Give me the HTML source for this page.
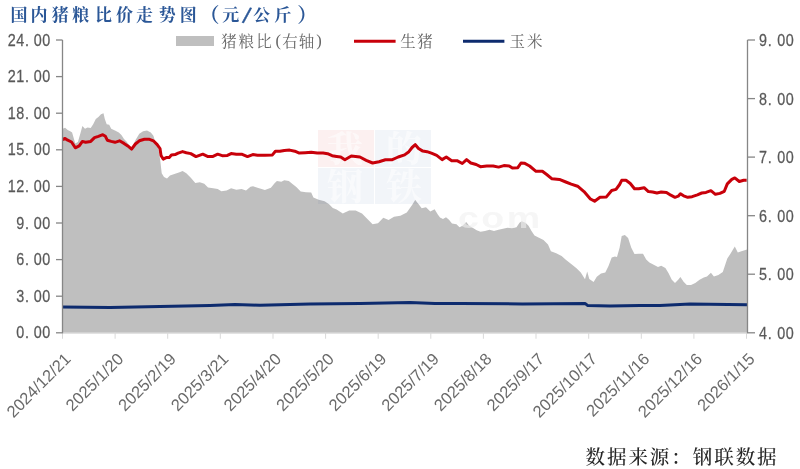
<!DOCTYPE html>
<html><head><meta charset="utf-8"><title>国内猪粮比价走势图</title>
<style>
html,body{margin:0;padding:0;background:#fff;}
body{width:800px;height:469px;position:relative;overflow:hidden;}
</style></head><body>
<svg width="800" height="469" viewBox="0 0 800 469" style="position:absolute;left:0;top:0;filter:blur(0.45px)"><text y="20.8" font-size="17" fill="#2b5797" font-family="'Liberation Serif', 'Noto Serif CJK SC', serif" font-weight="700"><tspan x="10.50" y="20.80">国</tspan><tspan x="30.60" y="20.80">内</tspan><tspan x="51.70" y="20.80">猪</tspan><tspan x="72.30" y="20.80">粮</tspan><tspan x="94.90" y="20.80">比</tspan><tspan x="116.00" y="20.80">价</tspan><tspan x="136.10" y="20.80">走</tspan><tspan x="158.70" y="20.80">势</tspan><tspan x="179.80" y="20.80">图</tspan><tspan x="199.40" y="22.40" font-size="20">（</tspan><tspan x="222.30" y="20.80">元</tspan><tspan x="242.0" y="22.6" rotate="13" font-size="22.5" font-family="Liberation Sans, sans-serif" font-weight="normal" stroke="#2b5797" stroke-width="0.4">/</tspan><tspan x="253.35" y="20.80">公</tspan><tspan x="274.25" y="20.80">斤</tspan><tspan x="297.35" y="22.40" font-size="20">）</tspan></text><polygon points="62.6,332.8 62.6,128.7 65.1,127.8 67.7,130.0 70.2,131.2 72.1,132.5 74.1,139.5 75.3,143.4 77.9,142.0 80.5,133.0 82.4,126.0 85.0,128.7 87.5,127.4 90.7,128.0 93.2,124.2 95.8,119.0 98.4,117.1 101.0,114.2 103.5,113.3 104.8,119.0 106.7,124.2 109.2,124.8 111.2,128.7 115.0,130.6 118.8,132.5 121.4,135.0 124.0,138.9 126.5,141.4 131.6,148.5 135.4,140.2 139.3,133.8 143.1,131.2 147.0,130.6 150.8,132.5 153.4,135.7 155.0,141.2 158.0,146.4 160.2,159.9 161.7,173.3 164.0,177.0 167.0,178.5 170.0,175.5 174.4,174.0 178.9,172.5 182.6,171.0 186.3,173.3 190.8,177.8 195.3,183.0 199.8,182.2 204.3,183.7 208.0,187.5 213.2,188.2 217.7,189.0 221.4,191.2 226.6,190.4 231.1,188.2 236.3,189.7 241.6,189.0 246.0,190.4 250.5,186.7 253.0,186.3 257.5,187.8 264.9,190.0 270.9,187.8 274.6,183.3 276.9,181.0 281.3,181.8 284.3,180.3 288.8,181.0 292.5,184.0 296.3,187.0 300.7,191.5 306.0,192.2 311.2,192.5 313.4,197.5 318.7,199.7 324.6,201.2 329.1,204.2 332.8,207.9 336.6,209.4 342.8,213.6 349.2,210.4 355.6,210.4 362.0,213.6 368.4,220.0 372.6,224.2 378.0,223.2 383.3,217.8 388.6,220.0 394.0,216.8 400.4,215.7 406.8,212.5 412.1,205.0 415.3,199.7 418.5,204.0 421.7,208.2 426.0,207.2 430.3,211.4 434.6,209.3 437.8,214.6 440.0,217.5 443.0,219.0 446.0,217.2 449.0,219.7 452.0,223.5 456.5,224.2 459.5,227.2 462.5,225.7 466.2,222.0 469.2,225.7 473.0,228.0 476.7,230.2 480.5,231.7 485.0,231.0 489.5,229.8 494.0,231.0 498.5,229.8 503.0,228.7 507.5,227.7 512.0,228.3 516.5,227.2 519.5,222.7 521.7,221.2 525.5,222.7 528.5,225.7 531.5,231.0 534.5,235.5 539.0,237.7 543.5,240.0 548.0,244.5 550.9,251.2 556.2,253.3 561.6,255.9 565.8,259.7 571.2,264.0 576.5,268.2 580.8,272.5 585.0,279.3 587.2,271.4 589.3,278.9 593.6,282.1 596.8,276.8 601.0,273.6 605.3,272.5 608.5,266.1 611.7,257.6 614.9,256.5 617.0,257.0 619.6,247.7 621.7,236.0 624.9,234.9 628.1,238.1 631.3,247.7 634.5,254.1 638.8,253.7 643.0,253.7 646.2,259.4 649.4,262.6 653.7,264.8 658.0,266.9 661.2,265.8 665.4,268.0 668.6,273.3 671.8,279.7 675.0,282.9 678.2,279.7 680.4,277.1 683.6,281.8 686.8,285.0 691.0,285.0 695.3,282.9 699.6,279.7 703.8,277.6 707.0,276.5 710.9,272.8 713.9,276.4 718.4,274.9 722.8,271.9 727.3,258.5 730.3,254.0 734.8,246.6 737.8,252.5 742.2,251.0 747.0,249.6 747.0,332.8" fill="#bfbfbf"/><g opacity="0.06"><rect x="318" y="130" width="56" height="37" fill="#c00000"/><rect x="375" y="130" width="56" height="37" fill="#2f5597"/><rect x="318" y="168" width="56" height="36" fill="#2f5597"/><rect x="375" y="168" width="56" height="36" fill="#2f5597"/></g><g fill="#ffffff" opacity="0.55"><text x="345" y="162" font-size="36" font-weight="bold" text-anchor="middle" font-family="Liberation Serif, Noto Serif CJK SC, serif">我</text><text x="404" y="162" font-size="36" font-weight="bold" text-anchor="middle" font-family="Liberation Serif, Noto Serif CJK SC, serif">的</text><text x="345" y="200" font-size="36" font-weight="bold" text-anchor="middle" font-family="Liberation Serif, Noto Serif CJK SC, serif">钢</text><text x="404" y="200" font-size="36" font-weight="bold" text-anchor="middle" font-family="Liberation Serif, Noto Serif CJK SC, serif">铁</text></g><text transform="translate(458,227.5) scale(1.25,1)" font-size="30" font-weight="bold" letter-spacing="2" fill="#f0f0f0" opacity="0.6" font-family="Liberation Sans, sans-serif">com</text><polyline points="62.5,307.1 110.0,307.4 160.0,306.6 210.0,305.4 235.0,304.6 260.0,305.2 310.0,304.1 360.0,303.6 410.0,302.6 435.0,303.4 460.0,303.4 522.5,303.9 585.0,303.4 587.5,305.4 610.0,306.1 640.0,305.4 660.0,305.4 690.0,304.0 747.0,304.8" fill="none" stroke="#0d2b6e" stroke-width="3" stroke-linejoin="round" stroke-linecap="butt"/><polyline points="62.6,139.5 65.1,138.5 67.7,140.2 71.5,142.0 75.3,147.8 79.2,145.9 82.4,141.4 85.6,142.3 90.7,141.4 94.5,137.6 98.4,136.3 102.8,134.7 105.4,136.3 107.3,140.2 111.2,141.4 115.0,142.3 119.5,140.8 124.0,143.4 127.8,145.9 131.6,149.1 135.4,144.0 139.3,140.8 144.4,139.3 149.5,139.3 153.4,140.8 157.2,144.6 160.0,148.5 161.0,155.4 163.2,159.1 166.2,157.6 169.2,157.6 171.4,155.0 175.1,154.6 178.1,153.1 182.6,151.6 186.3,152.7 190.8,153.6 196.0,156.6 202.8,154.2 208.0,156.6 212.5,156.6 217.7,154.2 222.2,155.7 227.4,155.4 231.1,153.6 236.3,154.2 241.6,154.2 247.5,156.6 252.8,154.6 257.5,155.2 264.9,155.2 272.4,154.9 275.4,151.2 279.9,151.2 284.3,150.4 289.6,150.1 294.8,151.2 299.3,153.1 305.2,152.7 311.2,152.2 317.2,153.1 323.1,153.1 327.6,153.7 332.1,155.7 336.6,156.4 340.7,157.0 344.9,159.8 351.3,156.0 359.9,157.0 366.2,160.3 372.6,163.0 379.0,161.7 385.4,159.8 391.8,159.8 398.2,157.0 404.6,154.9 408.9,151.7 412.1,147.5 415.3,144.7 418.5,148.5 422.8,151.1 427.0,151.7 431.4,153.2 436.7,155.4 442.1,159.6 446.3,157.0 451.7,160.7 457.0,160.7 462.3,163.5 466.6,159.6 470.8,163.0 476.2,164.5 480.4,166.7 486.8,166.0 493.2,166.0 498.6,167.1 503.9,165.6 509.2,166.0 512.4,168.1 517.8,167.7 521.0,163.0 524.3,163.2 529.6,166.0 536.0,171.3 542.4,171.3 546.7,174.5 552.0,178.8 559.4,179.4 565.8,182.0 571.2,184.1 577.6,186.2 584.0,191.6 590.4,199.0 594.6,201.2 600.0,197.3 606.4,196.9 611.7,190.5 616.0,189.4 619.6,184.5 621.7,180.3 626.0,180.3 630.3,183.5 634.5,188.8 638.8,188.8 644.1,187.7 648.4,191.6 652.6,192.0 656.9,193.0 661.2,192.0 666.5,192.4 670.8,195.2 675.0,197.3 678.2,196.2 680.4,193.7 683.6,195.8 687.8,197.3 692.1,196.7 697.4,194.8 701.7,193.0 706.0,192.4 710.9,190.7 715.4,194.3 719.9,193.4 724.3,191.3 727.3,183.9 731.8,179.4 734.8,177.9 739.3,181.5 743.7,180.3 746.7,180.3" fill="none" stroke="#c8000a" stroke-width="3" stroke-linejoin="round" stroke-linecap="butt"/><line x1="62.5" y1="333.25" x2="747.5" y2="333.25" stroke="#d9d9d9" stroke-width="1"/><line x1="62.5" y1="332.75" x2="62.5" y2="338.75" stroke="#d9d9d9" stroke-width="1"/><line x1="115.1" y1="332.75" x2="115.1" y2="338.75" stroke="#d9d9d9" stroke-width="1"/><line x1="167.7" y1="332.75" x2="167.7" y2="338.75" stroke="#d9d9d9" stroke-width="1"/><line x1="220.3" y1="332.75" x2="220.3" y2="338.75" stroke="#d9d9d9" stroke-width="1"/><line x1="273.0" y1="332.75" x2="273.0" y2="338.75" stroke="#d9d9d9" stroke-width="1"/><line x1="325.6" y1="332.75" x2="325.6" y2="338.75" stroke="#d9d9d9" stroke-width="1"/><line x1="378.2" y1="332.75" x2="378.2" y2="338.75" stroke="#d9d9d9" stroke-width="1"/><line x1="430.8" y1="332.75" x2="430.8" y2="338.75" stroke="#d9d9d9" stroke-width="1"/><line x1="483.4" y1="332.75" x2="483.4" y2="338.75" stroke="#d9d9d9" stroke-width="1"/><line x1="536.0" y1="332.75" x2="536.0" y2="338.75" stroke="#d9d9d9" stroke-width="1"/><line x1="588.7" y1="332.75" x2="588.7" y2="338.75" stroke="#d9d9d9" stroke-width="1"/><line x1="641.3" y1="332.75" x2="641.3" y2="338.75" stroke="#d9d9d9" stroke-width="1"/><line x1="693.9" y1="332.75" x2="693.9" y2="338.75" stroke="#d9d9d9" stroke-width="1"/><line x1="746.5" y1="332.75" x2="746.5" y2="338.75" stroke="#d9d9d9" stroke-width="1"/><line x1="62.5" y1="40" x2="62.5" y2="333.25" stroke="#868686" stroke-width="1.3"/><line x1="56" y1="332.8" x2="62.5" y2="332.8" stroke="#868686" stroke-width="1.3"/><line x1="56" y1="296.2" x2="62.5" y2="296.2" stroke="#868686" stroke-width="1.3"/><line x1="56" y1="259.6" x2="62.5" y2="259.6" stroke="#868686" stroke-width="1.3"/><line x1="56" y1="223.0" x2="62.5" y2="223.0" stroke="#868686" stroke-width="1.3"/><line x1="56" y1="186.4" x2="62.5" y2="186.4" stroke="#868686" stroke-width="1.3"/><line x1="56" y1="149.8" x2="62.5" y2="149.8" stroke="#868686" stroke-width="1.3"/><line x1="56" y1="113.2" x2="62.5" y2="113.2" stroke="#868686" stroke-width="1.3"/><line x1="56" y1="76.6" x2="62.5" y2="76.6" stroke="#868686" stroke-width="1.3"/><line x1="56" y1="40.0" x2="62.5" y2="40.0" stroke="#868686" stroke-width="1.3"/><line x1="747.5" y1="40" x2="747.5" y2="333.25" stroke="#868686" stroke-width="1.3"/><line x1="747.5" y1="332.8" x2="755" y2="332.8" stroke="#868686" stroke-width="1.3"/><line x1="747.5" y1="274.2" x2="755" y2="274.2" stroke="#868686" stroke-width="1.3"/><line x1="747.5" y1="215.7" x2="755" y2="215.7" stroke="#868686" stroke-width="1.3"/><line x1="747.5" y1="157.1" x2="755" y2="157.1" stroke="#868686" stroke-width="1.3"/><line x1="747.5" y1="98.6" x2="755" y2="98.6" stroke="#868686" stroke-width="1.3"/><line x1="747.5" y1="40.0" x2="755" y2="40.0" stroke="#868686" stroke-width="1.3"/><text transform="matrix(0.87 0 0 1 16.30 0)" x="0.00 10.00 20.00 29.77" y="338.35" font-size="16.5" fill="#595959" font-family="'Liberation Sans', sans-serif" stroke="#595959" stroke-width="0.25">0.00</text><text transform="matrix(0.87 0 0 1 16.30 0)" x="0.00 10.00 20.00 29.77" y="301.76" font-size="16.5" fill="#595959" font-family="'Liberation Sans', sans-serif" stroke="#595959" stroke-width="0.25">3.00</text><text transform="matrix(0.87 0 0 1 16.30 0)" x="0.00 10.00 20.00 29.77" y="265.16" font-size="16.5" fill="#595959" font-family="'Liberation Sans', sans-serif" stroke="#595959" stroke-width="0.25">6.00</text><text transform="matrix(0.87 0 0 1 16.30 0)" x="0.00 10.00 20.00 29.77" y="228.57" font-size="16.5" fill="#595959" font-family="'Liberation Sans', sans-serif" stroke="#595959" stroke-width="0.25">9.00</text><text transform="matrix(0.87 0 0 1 7.80 0)" x="0.00 9.77 19.77 29.77 39.54" y="191.97" font-size="16.5" fill="#595959" font-family="'Liberation Sans', sans-serif" stroke="#595959" stroke-width="0.25">12.00</text><text transform="matrix(0.87 0 0 1 7.80 0)" x="0.00 9.77 19.77 29.77 39.54" y="155.38" font-size="16.5" fill="#595959" font-family="'Liberation Sans', sans-serif" stroke="#595959" stroke-width="0.25">15.00</text><text transform="matrix(0.87 0 0 1 7.80 0)" x="0.00 9.77 19.77 29.77 39.54" y="118.79" font-size="16.5" fill="#595959" font-family="'Liberation Sans', sans-serif" stroke="#595959" stroke-width="0.25">18.00</text><text transform="matrix(0.87 0 0 1 7.80 0)" x="0.00 9.77 19.77 29.77 39.54" y="82.19" font-size="16.5" fill="#595959" font-family="'Liberation Sans', sans-serif" stroke="#595959" stroke-width="0.25">21.00</text><text transform="matrix(0.87 0 0 1 7.80 0)" x="0.00 9.77 19.77 29.77 39.54" y="45.60" font-size="16.5" fill="#595959" font-family="'Liberation Sans', sans-serif" stroke="#595959" stroke-width="0.25">24.00</text><text transform="matrix(0.87 0 0 1 758.90 0)" x="0.00 10.23 21.15 30.92" y="338.75" font-size="16.5" fill="#595959" font-family="'Liberation Sans', sans-serif" stroke="#595959" stroke-width="0.25">4.00</text><text transform="matrix(0.87 0 0 1 758.90 0)" x="0.00 10.23 21.15 30.92" y="280.20" font-size="16.5" fill="#595959" font-family="'Liberation Sans', sans-serif" stroke="#595959" stroke-width="0.25">5.00</text><text transform="matrix(0.87 0 0 1 758.90 0)" x="0.00 10.23 21.15 30.92" y="221.65" font-size="16.5" fill="#595959" font-family="'Liberation Sans', sans-serif" stroke="#595959" stroke-width="0.25">6.00</text><text transform="matrix(0.87 0 0 1 758.90 0)" x="0.00 10.23 21.15 30.92" y="163.10" font-size="16.5" fill="#595959" font-family="'Liberation Sans', sans-serif" stroke="#595959" stroke-width="0.25">7.00</text><text transform="matrix(0.87 0 0 1 758.90 0)" x="0.00 10.23 21.15 30.92" y="104.55" font-size="16.5" fill="#595959" font-family="'Liberation Sans', sans-serif" stroke="#595959" stroke-width="0.25">8.00</text><text transform="matrix(0.87 0 0 1 758.90 0)" x="0.00 10.23 21.15 30.92" y="46.00" font-size="16.5" fill="#595959" font-family="'Liberation Sans', sans-serif" stroke="#595959" stroke-width="0.25">9.00</text><text transform="translate(71.8,360) rotate(-45)" text-anchor="end" font-size="16.5" fill="#6a6a6a" font-family="'Liberation Sans', sans-serif">2024/12/21</text><text transform="translate(124.4,360) rotate(-45)" text-anchor="end" font-size="16.5" fill="#6a6a6a" font-family="'Liberation Sans', sans-serif">2025/1/20</text><text transform="translate(177.0,360) rotate(-45)" text-anchor="end" font-size="16.5" fill="#6a6a6a" font-family="'Liberation Sans', sans-serif">2025/2/19</text><text transform="translate(229.6,360) rotate(-45)" text-anchor="end" font-size="16.5" fill="#6a6a6a" font-family="'Liberation Sans', sans-serif">2025/3/21</text><text transform="translate(282.3,360) rotate(-45)" text-anchor="end" font-size="16.5" fill="#6a6a6a" font-family="'Liberation Sans', sans-serif">2025/4/20</text><text transform="translate(334.9,360) rotate(-45)" text-anchor="end" font-size="16.5" fill="#6a6a6a" font-family="'Liberation Sans', sans-serif">2025/5/20</text><text transform="translate(387.5,360) rotate(-45)" text-anchor="end" font-size="16.5" fill="#6a6a6a" font-family="'Liberation Sans', sans-serif">2025/6/19</text><text transform="translate(440.1,360) rotate(-45)" text-anchor="end" font-size="16.5" fill="#6a6a6a" font-family="'Liberation Sans', sans-serif">2025/7/19</text><text transform="translate(492.7,360) rotate(-45)" text-anchor="end" font-size="16.5" fill="#6a6a6a" font-family="'Liberation Sans', sans-serif">2025/8/18</text><text transform="translate(545.3,360) rotate(-45)" text-anchor="end" font-size="16.5" fill="#6a6a6a" font-family="'Liberation Sans', sans-serif">2025/9/17</text><text transform="translate(598.0,360) rotate(-45)" text-anchor="end" font-size="16.5" fill="#6a6a6a" font-family="'Liberation Sans', sans-serif">2025/10/17</text><text transform="translate(650.6,360) rotate(-45)" text-anchor="end" font-size="16.5" fill="#6a6a6a" font-family="'Liberation Sans', sans-serif">2025/11/16</text><text transform="translate(703.2,360) rotate(-45)" text-anchor="end" font-size="16.5" fill="#6a6a6a" font-family="'Liberation Sans', sans-serif">2025/12/16</text><text transform="translate(755.8,360) rotate(-45)" text-anchor="end" font-size="16.5" fill="#6a6a6a" font-family="'Liberation Sans', sans-serif">2026/1/15</text><rect x="176" y="36" width="38" height="10" fill="#bfbfbf"/><line x1="354" y1="41.25" x2="395.6" y2="41.25" stroke="#c8000a" stroke-width="3"/><line x1="463" y1="41.25" x2="504.4" y2="41.25" stroke="#0d2b6e" stroke-width="3"/><text font-size="15.5" fill="#666666" font-family="'Liberation Serif', 'Noto Serif CJK SC', serif"><tspan x="221.3" y="46.9">猪</tspan><tspan x="238.6" y="46.9">粮</tspan><tspan x="256.2" y="46.9">比</tspan><tspan x="275.6" y="45.9" font-size="16.5">(</tspan><tspan x="282.2" y="46.9">右</tspan><tspan x="298.8" y="46.9">轴</tspan><tspan x="316.2" y="45.9" font-size="16.5">)</tspan></text><text x="400.30 417.30" y="46.90" font-size="15.5" fill="#666666" font-family="'Liberation Serif', 'Noto Serif CJK SC', serif" font-weight="normal" >生猪</text><text x="509.60 526.90" y="46.90" font-size="15.5" fill="#666666" font-family="'Liberation Serif', 'Noto Serif CJK SC', serif" font-weight="normal" >玉米</text><text x="585.50 606.95 628.40 649.85 671.30 692.75 714.20 735.65 757.10" y="464.30" font-size="19.5" fill="#262626" font-family="'Liberation Serif', 'Noto Serif CJK SC', serif" font-weight="500" >数据来源：钢联数据</text></svg>
</body></html>
